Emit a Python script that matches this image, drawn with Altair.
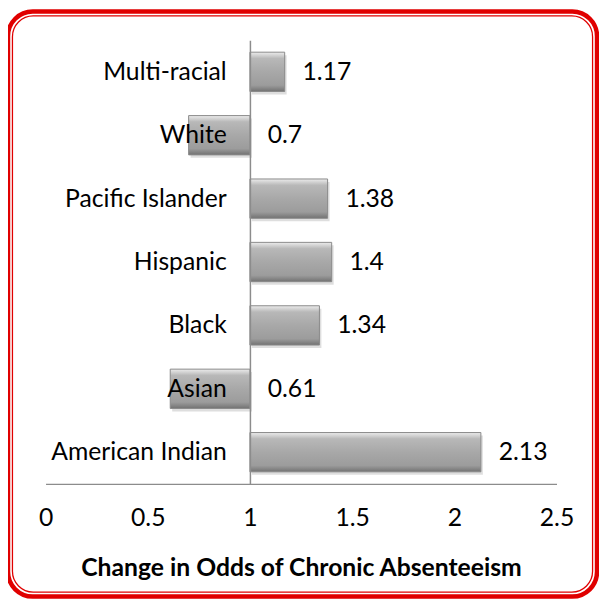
import altair as alt
import pandas as pd

groups = ["Multi-racial", "White", "Pacific Islander", "Hispanic", "Black", "Asian", "American Indian"]
odds = [1.17, 0.7, 1.38, 1.4, 1.34, 0.61, 2.13]
odds_labels = ["1.17", "0.7", "1.38", "1.4", "1.34", "0.61", "2.13"]
x_ticks = [0, 0.5, 1, 1.5, 2, 2.5]
baseline = 1
x_title = "Change in Odds of Chronic Absenteeism"

W, H = 517, 449
FONT = "Lato"
FS = 25

df = pd.DataFrame({"group": groups, "odds": odds, "label": odds_labels})
df["base"] = baseline
df["labelpos"] = df["odds"].clip(lower=baseline)

xs = alt.Scale(domain=[0, 2.5], nice=False, zero=False)
ys = alt.Scale(domain=groups, paddingInner=0.38, paddingOuter=0.19)

base = alt.Chart(df)

frame_df = pd.DataFrame({"k": [0]})
outer = alt.Chart(frame_df).mark_rect(
    fillOpacity=0, stroke="#e00000", strokeWidth=4.5, cornerRadius=25
).encode(x=alt.value(-38), x2=alt.value(558), y=alt.value(-29), y2=alt.value(563))
inner = alt.Chart(frame_df).mark_rect(
    fillOpacity=0, stroke="#e00000", strokeWidth=1.3, cornerRadius=21
).encode(x=alt.value(-33.5), x2=alt.value(553.5), y=alt.value(-24.5), y2=alt.value(558.5))

shadow = base.mark_bar(color="#c8c8c8", opacity=0.6, xOffset=2, x2Offset=2, yOffset=3, y2Offset=3).encode(
    x=alt.X("odds:Q", scale=xs),
    x2="base:Q",
    y=alt.Y("group:N", scale=ys),
)

bars = base.mark_bar(
    stroke="#8a8a8a",
    strokeWidth=1,
    color=alt.Gradient(
        gradient="linear",
        x1=0, x2=0, y1=0, y2=1,
        stops=[
            alt.GradientStop(offset=0, color="#ececec"),
            alt.GradientStop(offset=0.16, color="#b8b8b8"),
            alt.GradientStop(offset=0.5, color="#a8a8a8"),
            alt.GradientStop(offset=0.84, color="#9c9c9c"),
            alt.GradientStop(offset=1, color="#727272"),
        ],
    ),
).encode(
    x=alt.X(
        "odds:Q",
        scale=xs,
        axis=alt.Axis(
            values=x_ticks,
            format="~g",
            title=x_title,
            grid=False,
            ticks=False,
            domainColor="#8c8c8c",
            domainWidth=1.5,
            labelFont=FONT,
            labelFontSize=FS,
            labelColor="black",
            labelPadding=22,
            labelFlush=False,
            titleFont=FONT,
            titleFontSize=25,
            titleFontWeight="bold",
            titleColor="black",
            titlePadding=26,
            zindex=1,
        ),
    ),
    x2="base:Q",
    y=alt.Y(
        "group:N",
        scale=ys,
        sort=groups,
        axis=alt.Axis(
            title=None,
            ticks=False,
            offset=-W * baseline / 2.5,
            domainColor="#8c8c8c",
            domainWidth=1.5,
            labelFont=FONT,
            labelFontSize=FS,
            labelColor="black",
            labelPadding=24,
            zindex=1,
        ),
    ),
)

text = base.mark_text(align="left", baseline="middle", dx=18, font=FONT, fontSize=FS, color="black").encode(
    x=alt.X("labelpos:Q", scale=xs),
    y=alt.Y("group:N", scale=ys),
    text="label:N",
)

chart = alt.layer(outer, inner, shadow, bars, text).properties(
    width=W,
    height=H,
    autosize=alt.AutoSizeParams(type="none"),
    padding={"left": 38, "top": 29, "right": 43, "bottom": 117},
).configure(background="white").configure_view(strokeWidth=0)

chart.save("out.html", embed_options={"renderer": "svg", "actions": False})
